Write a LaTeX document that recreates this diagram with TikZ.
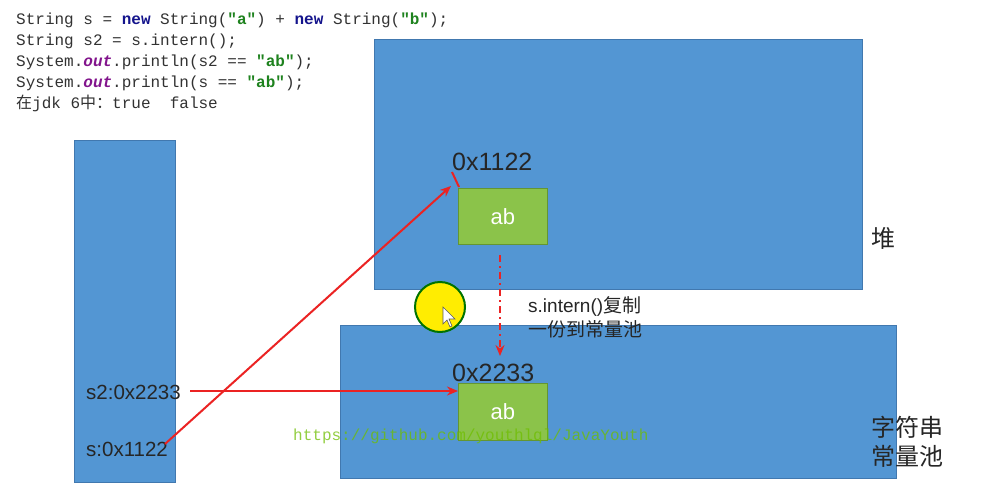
\documentclass[tikz,border=0pt]{standalone}
\usepackage{fontspec}
\setmainfont{Liberation Sans}
\newfontfamily\codefont{Liberation Mono}
\newfontfamily\cjk{Noto Sans CJK SC}
\usetikzlibrary{arrows.meta}
\definecolor{boxblue}{RGB}{83,150,211}
\definecolor{boxblueedge}{RGB}{65,120,175}
\definecolor{abgreen}{RGB}{139,195,74}
\definecolor{abedge}{RGB}{100,150,50}
\definecolor{kwblue}{RGB}{20,20,140}
\definecolor{kwpurple}{RGB}{130,20,140}
\definecolor{strgreen}{RGB}{30,130,30}
\definecolor{codegray}{RGB}{50,50,50}
\definecolor{arrowred}{RGB}{235,35,35}
\definecolor{urlgreen}{RGB}{110,190,0}
\begin{document}
\begin{tikzpicture}[x=1pt,y=-1pt,
  area/.style={draw=boxblueedge, fill=boxblue, line width=0.8pt, anchor=north west, inner sep=0pt},
  abbox/.style={draw=abedge, fill=abgreen, line width=0.8pt, anchor=north west, inner sep=0pt,
    minimum width=89pt, text=white, font=\fontsize{22}{24}\selectfont},
  codeline/.style={anchor=base west, inner sep=0pt, text=codegray, font=\codefont\fontsize{16}{18}\selectfont},
  addr/.style={anchor=base west, inner sep=0pt, font=\fontsize{25}{27}\selectfont, text=black!85},
  varlbl/.style={anchor=base west, inner sep=0pt, font=\fontsize{20.5}{22}\selectfont, text=black!85},
  cjklbl/.style={inner sep=0pt, font=\cjk\fontsize{24}{29}\selectfont, text=black!85, align=left},
  redarrow/.style={draw=arrowred, line width=2pt, -{Stealth[length=11pt,width=9pt]}}
]
\useasboundingbox (0,0) rectangle (991,498);
\fill[white] (0,0) rectangle (991,498);

% code
\node[codeline] (c1) at (16,24) {String s = {\color{kwblue}\bfseries new} String({\color{strgreen}\bfseries "a"}) + {\color{kwblue}\bfseries new} String({\color{strgreen}\bfseries "b"});};
\node[codeline] (c2) at (16,45) {String s2 = s.intern();};
\node[codeline] (c3) at (16,66) {System.{\color{kwpurple}\bfseries\itshape out}.println(s2 == {\color{strgreen}\bfseries "ab"});};
\node[codeline] (c4) at (16,87) {System.{\color{kwpurple}\bfseries\itshape out}.println(s == {\color{strgreen}\bfseries "ab"});};
\node[codeline] (c5) at (16,108) {{\cjk 在}jdk 6{\cjk 中：}true~~false};

% areas
\node[area, minimum width=101pt, minimum height=342pt] (stack) at (74,140) {};
\node[area, minimum width=488pt, minimum height=250pt] (heap) at (374,39) {};
\node[area, minimum width=556pt, minimum height=153pt] (pool) at (340,325) {};

% ab boxes
\node[abbox, minimum height=56pt] (ab1) at (458,188) {ab};
\node[abbox, minimum height=57pt] (ab2) at (458,383) {ab};

% addresses
\node[addr] (a1) at (452,170) {0x1122};
\node[addr] (a2) at (452,381) {0x2233};

% variables
\node[varlbl] (v2) at (86,399) {s2:0x2233};
\node[varlbl] (v1) at (86,456) {s:0x1122};

% area labels
\node[cjklbl, anchor=west] (heaplbl) at (871,238) {堆};
\node[cjklbl, anchor=west] (poollbl) at (871,442) {字符串\\常量池};

% intern note
\node[anchor=north west, inner sep=0pt, align=left, font=\fontsize{19}{24}\selectfont, text=black!85] (note) at (528,296) {s.intern(){\cjk 复制}\\{\cjk 一份到常量池}};

% cursor highlight
\node[circle, fill=yellow!95!orange, draw=green!45!black, line width=2pt, minimum size=50pt, inner sep=0pt] (cursor) at (440,307) {};
\draw[fill=white, draw=gray!70!black, line width=0.6pt] (443,307) -- (443,324) -- (447,320) -- (450,327) -- (452,326) -- (449,319) -- (455,319) -- cycle;

% connectors
\coordinate (s1end) at (165,444);
\coordinate (s2start) at (190,391);
\coordinate (h1) at (451,186);
\coordinate (tickA) at (452,172);
\coordinate (tickB) at (459,187);
\draw[redarrow] (s1end) -- (h1);
\draw[arrowred, line width=2pt] (tickA) -- (tickB);
\draw[redarrow] (s2start) -- (ab2.west |- s2start);
\coordinate (dstart) at (500,255);
\coordinate (dend) at (500,356);
\draw[redarrow, dash pattern=on 7pt off 4pt on 2pt off 4pt] (dstart) -- (dend);

% watermark url
\node[anchor=base west, inner sep=0pt, text=urlgreen, text opacity=0.75, font=\codefont\fontsize{16}{18}\selectfont] (url) at (293,440) {https://github.com/youthlql/JavaYouth};
\end{tikzpicture}
\end{document}
